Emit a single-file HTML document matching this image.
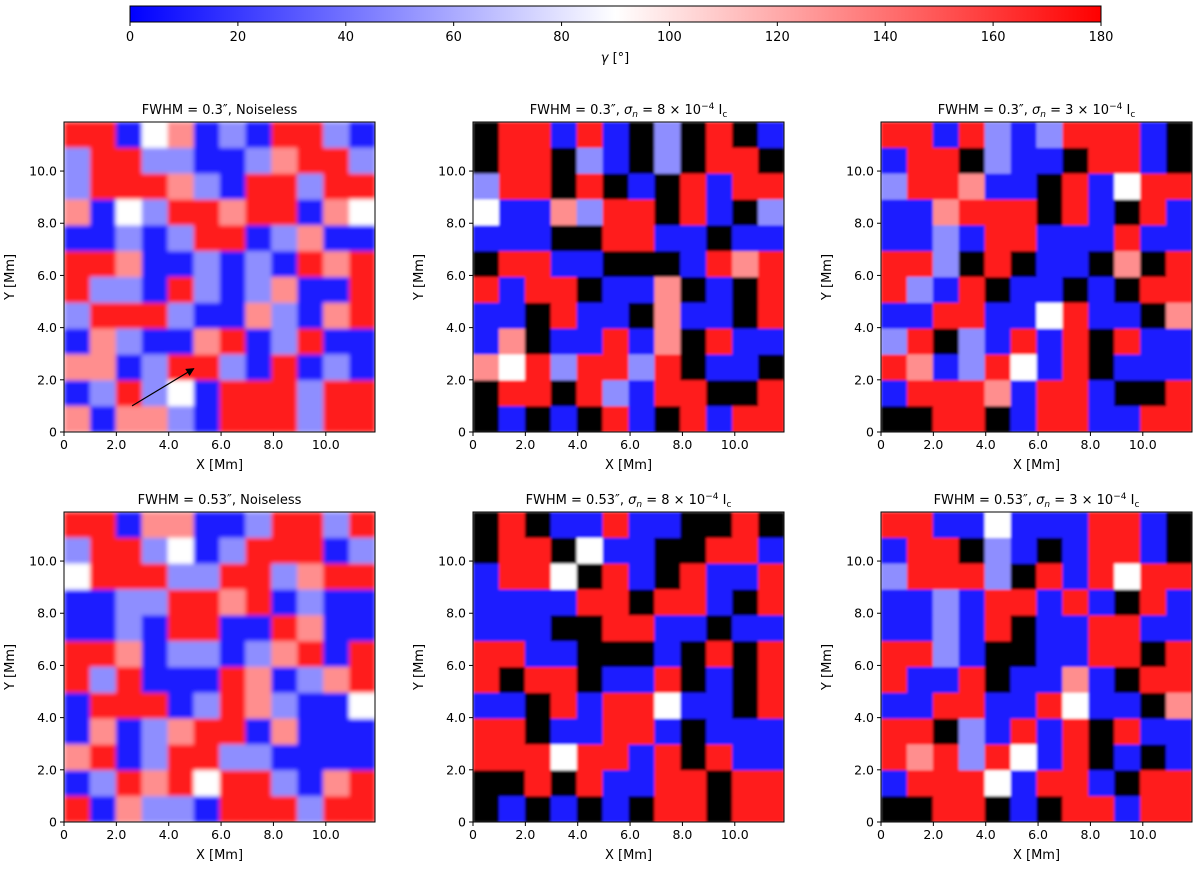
<!DOCTYPE html>
<html><head><meta charset="utf-8"><style>
html,body{margin:0;padding:0;background:#fff;}
svg{display:block;font-family:"DejaVu Sans","Liberation Sans",sans-serif;}
</style></head><body>
<svg id="fig" width="1200" height="870" viewBox="0 0 1200 870" xmlns="http://www.w3.org/2000/svg">
<defs>
<linearGradient id="bwr" x1="0" x2="1" y1="0" y2="0">
<stop offset="0" stop-color="#0000ff"/><stop offset="0.5" stop-color="#ffffff"/><stop offset="1" stop-color="#ff0000"/>
</linearGradient>
<marker id="ah" viewBox="0 0 10 10" refX="9" refY="5" markerWidth="7" markerHeight="7" orient="auto"><path d="M0,0 L10,5 L0,10 z" fill="#000"/></marker>
<filter id="soft" x="-5%" y="-5%" width="110%" height="110%"><feGaussianBlur stdDeviation="2" edgeMode="duplicate"/></filter>
<filter id="softer" x="-5%" y="-5%" width="110%" height="110%"><feGaussianBlur stdDeviation="1.2" edgeMode="duplicate"/></filter>
</defs>
<g id="cbar"></g>
<g id="panels"></g>
</svg>
<script>
const NS="http://www.w3.org/2000/svg";
const cbTicks=[0,20,40,60,80,100,120,140,160,180];
const axTicks=[0,2,4,6,8,10];
const axMax=11.88;
const titles=[
 ['FWHM = 0.3″, Noiseless',null],
 ['FWHM = 0.3″, ','8'],
 ['FWHM = 0.3″, ','3'],
 ['FWHM = 0.53″, Noiseless',null],
 ['FWHM = 0.53″, ','8'],
 ['FWHM = 0.53″, ','3']
];
// gamma values (deg), -1 = masked (black); rows from top
const p1=[
[170,170,10,90,130,10,50,10,170,170,50,10],
[50,170,170,50,50,10,10,50,130,170,170,50],
[50,170,170,170,130,50,10,170,170,50,170,170],
[130,10,90,50,170,170,130,170,170,10,130,90],
[10,10,50,10,50,170,170,10,50,130,10,10],
[170,170,130,10,10,50,10,50,10,170,130,170],
[170,50,50,10,170,50,10,50,130,10,10,170],
[50,170,170,170,50,10,10,130,50,10,130,170],
[10,130,50,10,10,130,170,10,50,170,10,10],
[130,130,10,50,170,170,50,10,170,10,50,10],
[10,50,170,50,90,10,170,170,170,50,170,170],
[130,10,130,130,50,10,170,170,170,50,170,170]];
const p2=[
[-1,170,170,10,170,10,-1,50,-1,170,-1,10],
[-1,170,170,-1,50,10,-1,50,-1,170,170,-1],
[50,170,170,-1,170,-1,10,-1,170,10,170,170],
[90,10,10,130,50,170,170,-1,170,10,-1,50],
[10,10,10,-1,-1,170,170,10,10,-1,10,10],
[-1,170,170,10,10,-1,-1,-1,10,170,130,170],
[170,10,170,170,-1,10,10,130,-1,10,-1,170],
[10,10,-1,170,10,10,-1,130,10,10,-1,170],
[10,130,-1,10,10,170,10,130,-1,170,10,10],
[130,90,170,50,170,170,50,170,-1,10,10,-1],
[-1,170,170,-1,170,50,10,170,170,-1,-1,170],
[-1,10,-1,10,-1,170,10,-1,170,10,170,170]];
const p3=[
[170,170,10,170,50,10,50,170,170,170,10,-1],
[10,170,170,-1,50,10,10,-1,170,170,10,-1],
[50,170,170,130,10,10,-1,170,10,90,170,170],
[10,10,130,170,170,170,-1,170,10,-1,170,10],
[10,10,50,10,170,170,10,10,10,170,10,10],
[170,170,50,-1,170,-1,10,10,-1,130,-1,170],
[170,50,10,170,-1,10,10,-1,10,-1,170,170],
[10,10,170,170,10,10,90,170,10,10,-1,130],
[50,170,-1,50,10,170,10,170,-1,170,10,10],
[170,130,10,50,170,90,10,170,-1,10,10,10],
[10,170,170,170,130,10,170,170,10,-1,-1,170],
[-1,-1,170,170,-1,10,170,170,10,10,170,170]];
const p4=[
[170,170,10,130,130,10,10,50,170,170,50,170],
[50,170,170,50,90,10,50,170,170,170,10,50],
[90,170,170,170,50,50,170,170,50,130,170,170],
[10,10,50,50,170,170,130,170,10,50,10,10],
[10,10,50,10,170,170,10,10,170,130,10,10],
[170,170,130,10,50,50,10,50,130,170,10,170],
[170,50,170,10,10,10,170,130,10,50,130,170],
[10,170,170,170,10,50,170,130,50,10,10,90],
[10,130,10,50,130,170,170,10,130,10,10,10],
[130,170,10,50,170,170,50,50,10,10,10,10],
[10,50,170,130,170,90,170,170,50,10,130,170],
[170,10,130,50,50,10,170,170,170,50,170,170]];
const p5=[
[-1,170,-1,10,10,170,10,10,-1,-1,170,-1],
[-1,170,170,-1,90,10,10,-1,-1,170,170,10],
[10,170,170,90,-1,170,10,-1,170,10,10,170],
[10,10,10,10,170,170,-1,170,170,10,-1,170],
[10,10,10,-1,-1,170,170,10,10,-1,10,10],
[170,170,10,10,-1,-1,-1,10,-1,170,-1,170],
[170,-1,170,170,-1,10,10,170,-1,10,-1,170],
[10,10,-1,170,10,170,170,90,10,10,-1,170],
[170,170,-1,10,10,170,170,10,-1,10,10,10],
[170,170,170,90,170,170,10,170,-1,170,10,10],
[-1,-1,170,-1,170,10,10,170,170,-1,170,170],
[-1,10,-1,10,-1,10,-1,170,170,-1,170,170]];
const p6=[
[170,170,10,10,90,10,10,10,170,170,10,-1],
[10,170,170,-1,50,10,-1,10,170,170,10,-1],
[50,170,170,170,50,-1,170,10,170,90,170,170],
[10,10,50,10,170,170,10,170,10,-1,170,10],
[10,10,50,10,170,-1,10,10,170,170,10,10],
[170,170,50,10,-1,-1,10,10,170,170,-1,170],
[170,10,10,170,-1,10,10,130,10,-1,170,170],
[10,10,170,170,10,10,170,90,10,10,-1,130],
[170,170,-1,50,10,170,10,170,-1,170,10,10],
[170,130,170,50,170,90,10,170,-1,10,-1,10],
[10,170,170,170,90,10,170,170,10,-1,170,170],
[-1,-1,170,170,-1,10,-1,170,170,10,170,170]];
const grids=[p1,p2,p3,p4,p5,p6];
const names=['top-left','top-middle','top-right','bottom-left','bottom-middle','bottom-right'];

function el(tag,attrs,parent){const e=document.createElementNS(NS,tag);for(const k in attrs)e.setAttribute(k,attrs[k]);if(parent)parent.appendChild(e);return e;}
function color(v){
 if(v<0)return '#000';
 let t=Math.max(0,Math.min(1,v/180)),r,g,b;
 if(t<0.5){const u=t/0.5;r=Math.round(255*u);g=r;b=255;}else{const u=(t-0.5)/0.5;r=255;g=Math.round(255*(1-u));b=g;}
 return `rgb(${r},${g},${b})`;
}
const cb=document.getElementById('cbar');
const cbX0=130,cbX1=1101,cbY=6,cbH=16;
const cbScale=v=>cbX0+(v/180)*(cbX1-cbX0);
const cbr=el('rect',{x:cbX0,y:cbY,width:cbX1-cbX0,height:cbH,fill:'url(#bwr)',stroke:'#000','stroke-width':1},cb);


cbTicks.forEach(v=>{
 const x=cbScale(v);
 el('line',{x1:x,x2:x,y1:cbY+cbH,y2:cbY+cbH+4,stroke:'#000'},cb);
 const t=el('text',{x:x,y:41,'font-size':13,'text-anchor':'middle'},cb);
 t.textContent=v;
 
 
});
const cbl=el('text',{x:615,y:62,'font-size':13,'text-anchor':'middle'},cb);
cbl.innerHTML='<tspan font-style="italic">γ</tspan> [°]';



const PX=[64,473,881],PY=[122,512],PW=311,PH=310;
const root=document.getElementById('panels');
grids.forEach((g,i)=>{
 const px=PX[i%3],py=PY[Math.floor(i/3)];
 const gp=el('g',{},root);
 
 
 const cp=el('clipPath',{id:'cp'+i},gp);
 el('rect',{x:px,y:py,width:PW,height:PH},cp);
 const xs=v=>px+v/axMax*PW, ys=v=>py+PH-v/axMax*PH;
 const n=g.length,m=g[0].length,cw=PW/m,ch=PH/n;
 const clip=el('g',{'clip-path':`url(#cp${i})`},gp);
 const noiseless=titles[i][1]===null;
 const hm=el('g',{filter:noiseless?'url(#soft)':'url(#softer)'},clip);
 
 
 g.forEach((row,r)=>row.forEach((v,c)=>{
  const cell=el('rect',{x:px+c*cw,y:py+r*ch,width:cw+0.6,height:ch+0.6,fill:color(v)},hm);
  
  
 }));
 el('rect',{x:px,y:py,width:PW,height:PH,fill:'none',stroke:'#000','stroke-width':1},gp);
 axTicks.forEach(v=>{
  const x=xs(v),y=ys(v);
  el('line',{x1:x,x2:x,y1:py+PH,y2:py+PH+4,stroke:'#000'},gp);
  const tx=el('text',{x:x,y:py+PH+17,'font-size':12.5,'text-anchor':'middle'},gp);
  tx.textContent=v===0?'0':v.toFixed(1);
  
  
  el('line',{x1:px-4,x2:px,y1:y,y2:y,stroke:'#000'},gp);
  const ty=el('text',{x:px-7,y:y+4.5,'font-size':12.5,'text-anchor':'end'},gp);
  ty.textContent=v===0?'0':v.toFixed(1);
  
  
 });
 const xl=el('text',{x:px+PW/2,y:py+PH+37,'font-size':13,'text-anchor':'middle'},gp);
 xl.textContent='X [Mm]';
 
 
 const yx=px-50,yy=py+PH/2;
 const yl=el('text',{x:yx,y:yy,'font-size':13,'text-anchor':'middle',transform:`rotate(-90 ${yx} ${yy})`},gp);
 yl.textContent='Y [Mm]';
 
 
 const tt=el('text',{x:px+PW/2,y:py-8,'font-size':13,'text-anchor':'middle'},gp);
 if(noiseless){tt.textContent=titles[i][0];}
 else{tt.innerHTML=titles[i][0]+'<tspan font-style="italic">σ</tspan><tspan font-size="9" dy="3"><tspan font-style="italic">n</tspan></tspan><tspan dy="-3"> = '+titles[i][1]+' × 10</tspan><tspan font-size="9" dy="-5">−4</tspan><tspan dy="5"> I</tspan><tspan font-size="9" dy="3">c</tspan>';}
 
 
 if(i===0){
  const ar=el('line',{x1:xs(2.6),y1:ys(1.0),x2:xs(4.96),y2:ys(2.43),stroke:'#000','stroke-width':1.2,'marker-end':'url(#ah)'},gp);
  
  
 }
});
</script>
</body></html>
